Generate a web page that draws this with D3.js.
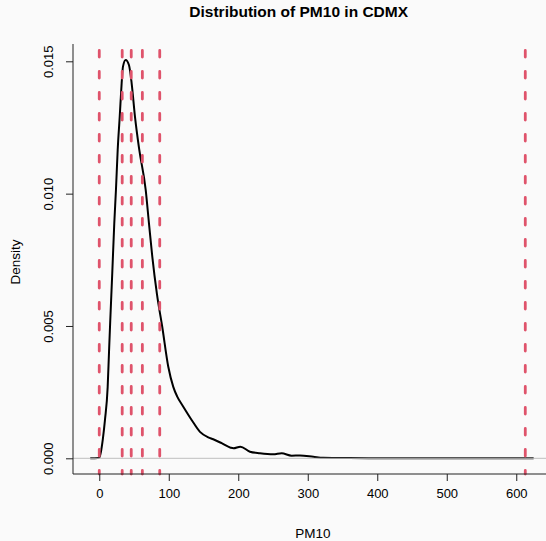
<!DOCTYPE html>
<html>
<head>
<meta charset="utf-8">
<script src="https://cdn.jsdelivr.net/npm/d3@7"></script>
<style>
  body { margin: 0; background: #fafafa; }
  svg { display: block; font-family: "Liberation Sans", Arial, sans-serif; }
</style>
</head>
<body>
<svg id="viz" width="546" height="541"></svg>
<script>
// density estimate of PM10
var pm10 = [-13, -2, 0, 2.4, 5, 8.2, 12.1, 14, 15.8, 18.7, 21.6, 24, 26.5, 29.4, 32.2, 34.1, 38,
  42.7, 46.6, 51.4, 57.6, 66.8, 71.5, 76.3, 83, 90.6, 99.3, 106.5, 112.2, 120.9, 132.9, 144.9,
  156.8, 164, 176.1, 189, 193, 203, 216.8, 231.2, 250.4, 262.4, 276.8, 288.8, 308, 322, 360,
  420, 500, 560, 600, 625];
var density = [0, 0.00001, 0.00003, 0.00025, 0.0007, 0.00145, 0.0027, 0.0040, 0.0052, 0.0070,
  0.00888, 0.01014, 0.01165, 0.0129, 0.01417, 0.0148, 0.01505,
  0.01486, 0.01417, 0.0129, 0.01165, 0.01014, 0.00888, 0.00762, 0.0062, 0.00497, 0.00346,
  0.0027, 0.00233, 0.00195, 0.00145, 0.0010,
  0.00079, 0.00072, 0.00057, 0.00040, 0.00038, 0.00044, 0.00025, 0.00019, 0.00015, 0.00019,
  0.00010, 0.00011, 0.00006, 0.00002, 0.00001,
  0.000005, 0.000003, 0.000002, 0.000002, 0];
// summary values marked with dashed lines
var markers = [0, 33, 46, 62, 87, 613];
var xTicks = [0, 100, 200, 300, 400, 500, 600];
var yTicks = [0, 0.005, 0.010, 0.015];

var plotLeft = 73, plotRight = 551, plotTop = 44, plotBottom = 474;

var svg = d3.select("#viz");
var x = d3.scaleLinear().domain([-37.8, 650]).range([plotLeft, plotRight]);
var y = d3.scaleLinear().domain([-0.000593, 0.015654]).range([plotBottom, plotTop]);

var pts = pm10.map(function (d, i) { return [d, density[i]]; });

// density curve
svg.append("path")
  .datum(pts)
  .attr("fill", "none")
  .attr("stroke", "#000")
  .attr("stroke-width", 2)
  .attr("stroke-linejoin", "round")
  .attr("d", d3.line()
    .x(function (d) { return x(d[0]); })
    .y(function (d) { return y(d[1]); })
    .curve(d3.curveMonotoneX));

// zero line
svg.append("line")
  .attr("x1", plotLeft).attr("x2", plotRight)
  .attr("y1", y(0)).attr("y2", y(0))
  .attr("stroke", "#bebebe").attr("stroke-width", 1);

// dashed markers
svg.append("g").selectAll("line")
  .data(markers)
  .enter()
  .append("line")
  .attr("x1", function (d) { return x(d); })
  .attr("x2", function (d) { return x(d); })
  .attr("y1", plotTop).attr("y2", plotBottom)
  .attr("stroke", "#DF536B")
  .attr("stroke-width", 2.8)
  .attr("stroke-linecap", "round")
  .attr("stroke-dasharray", "6.5,14.5")
  .attr("stroke-dashoffset", -6.5);

// L-shaped box
svg.append("path")
  .attr("d", "M" + plotLeft + "," + plotTop + "V" + plotBottom + "H" + plotRight)
  .attr("fill", "none").attr("stroke", "#222").attr("stroke-width", 1);

// x axis
var xAxis = svg.append("g")
  .attr("transform", "translate(0," + plotBottom + ")")
  .call(d3.axisBottom(x).tickValues(xTicks).tickSize(7).tickPadding(8).tickFormat(d3.format("d")));
xAxis.select(".domain").remove();
xAxis.selectAll("line").attr("stroke", "#222");
xAxis.selectAll("text").attr("font-size", 13).attr("fill", "#000")
  .attr("font-family", "Liberation Sans, Arial, sans-serif");

// y axis, labels parallel to the axis
var yAxis = svg.append("g")
  .attr("transform", "translate(" + plotLeft + ",0)")
  .call(d3.axisLeft(y).tickValues(yTicks).tickSize(7).tickFormat(d3.format(".3f")));
yAxis.select(".domain").remove();
yAxis.selectAll("line").attr("stroke", "#222");
yAxis.selectAll("text")
  .attr("font-size", 13).attr("fill", "#000")
  .attr("font-family", "Liberation Sans, Arial, sans-serif")
  .attr("text-anchor", "middle")
  .attr("dy", 0)
  .attr("x", 0)
  .attr("transform", "translate(-20.5,0) rotate(-90)");

// titles
svg.append("text")
  .attr("x", 298.7).attr("y", 16.5)
  .attr("text-anchor", "middle")
  .attr("font-size", 15.5).attr("font-weight", "bold")
  .text("Distribution of PM10 in CDMX");

svg.append("text")
  .attr("x", 313).attr("y", 537.7)
  .attr("text-anchor", "middle")
  .attr("font-size", 13.5)
  .text("PM10");

svg.append("text")
  .attr("transform", "translate(19.5,262) rotate(-90)")
  .attr("text-anchor", "middle")
  .attr("font-size", 13.5)
  .text("Density");
</script>
</body>
</html>
